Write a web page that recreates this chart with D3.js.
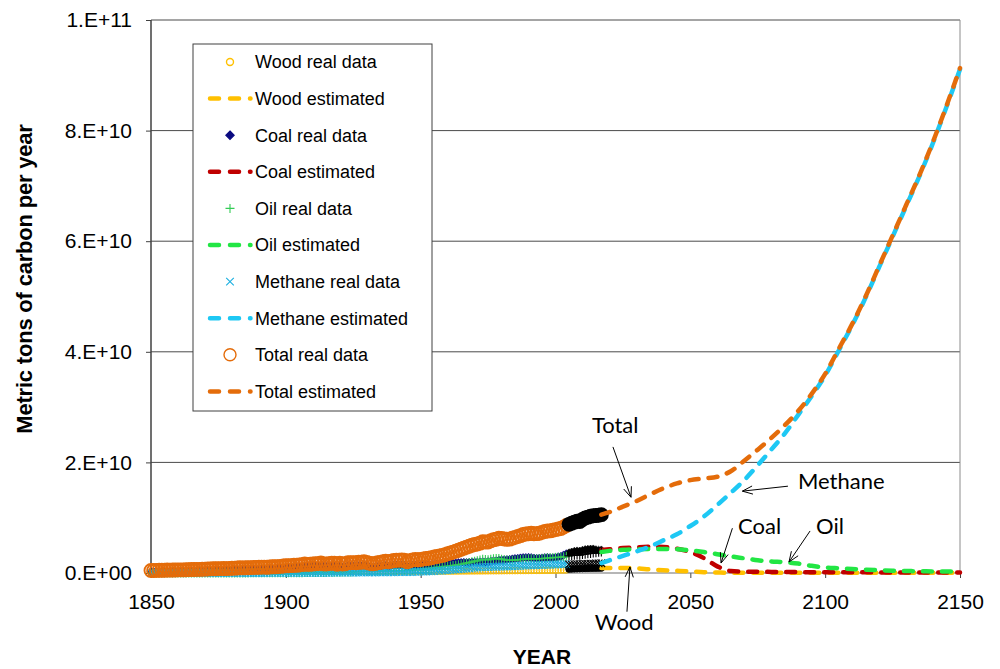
<!DOCTYPE html>
<html><head><meta charset="utf-8">
<script src="https://cdn.jsdelivr.net/npm/d3@7"></script>
<style>body{margin:0;background:#fff}svg{display:block}</style>
</head><body><svg id="chart" width="1000" height="669"></svg>
<script>
// ---------- DATA (values in billions of metric tons of carbon per year) ----------
const UNIT = 1e9;
const firstRealYear = 1850;   // real data is yearly from 1850 to 2017
const recentFromYear = 2005;  // real data drawn in black from this year on

const woodReal = [
0.15,0.15,0.16,0.16,0.16,0.17,0.17,0.17,0.18,0.18,
0.18,0.18,0.19,0.19,0.19,0.19,0.20,0.20,0.20,0.20,
0.20,0.21,0.21,0.21,0.21,0.21,0.22,0.22,0.22,0.22,
0.22,0.22,0.23,0.23,0.23,0.23,0.23,0.23,0.24,0.24,
0.24,0.24,0.24,0.24,0.24,0.25,0.25,0.25,0.25,0.25,
0.25,0.25,0.25,0.26,0.26,0.26,0.26,0.26,0.26,0.26,
0.26,0.26,0.27,0.27,0.27,0.27,0.27,0.27,0.27,0.27,
0.27,0.27,0.28,0.28,0.28,0.28,0.28,0.28,0.28,0.28,
0.28,0.28,0.28,0.29,0.29,0.29,0.29,0.29,0.29,0.29,
0.29,0.29,0.30,0.30,0.30,0.30,0.30,0.30,0.30,0.31,
0.31,0.31,0.31,0.31,0.32,0.32,0.32,0.32,0.33,0.33,
0.33,0.33,0.34,0.34,0.34,0.35,0.35,0.35,0.36,0.36,
0.36,0.37,0.37,0.37,0.38,0.38,0.39,0.39,0.39,0.40,
0.40,0.41,0.41,0.42,0.42,0.42,0.43,0.43,0.44,0.44,
0.45,0.45,0.46,0.46,0.47,0.47,0.48,0.48,0.49,0.50,
0.50,0.51,0.52,0.53,0.54,0.70,0.72,0.74,0.76,0.78,
0.80,0.82,0.83,0.84,0.85,0.86,0.87,0.88];

const coalReal = [
0.20,0.21,0.22,0.23,0.24,0.25,0.26,0.26,0.27,0.28,
0.29,0.30,0.30,0.32,0.34,0.35,0.36,0.37,0.38,0.40,
0.42,0.44,0.47,0.49,0.48,0.50,0.51,0.52,0.52,0.54,
0.57,0.59,0.62,0.65,0.64,0.65,0.66,0.68,0.72,0.72,
0.75,0.78,0.77,0.76,0.79,0.82,0.84,0.86,0.90,0.95,
0.98,0.99,1.00,1.07,1.06,1.09,1.15,1.24,1.17,1.19,
1.22,1.23,1.26,1.34,1.20,1.16,1.22,1.27,1.24,1.08,
1.22,1.07,1.10,1.27,1.25,1.25,1.20,1.28,1.26,1.33,
1.22,1.10,0.98,1.02,1.12,1.15,1.24,1.30,1.20,1.28,
1.36,1.39,1.40,1.42,1.36,1.12,1.25,1.36,1.40,1.32,
1.42,1.50,1.48,1.49,1.49,1.56,1.62,1.66,1.68,1.72,
1.80,1.72,1.76,1.82,1.86,1.88,1.90,1.88,1.90,1.94,
1.96,1.94,1.98,2.02,2.00,2.05,2.12,2.18,2.20,2.30,
2.34,2.36,2.40,2.44,2.52,2.60,2.64,2.70,2.76,2.78,
2.80,2.76,2.68,2.64,2.66,2.70,2.76,2.80,2.74,2.72,
2.82,2.90,2.98,3.24,3.46,3.62,3.76,3.90,3.96,3.94,
4.08,4.20,4.26,4.30,4.32,4.18,4.10,4.14];

const oilReal = [
0.00,0.00,0.00,0.00,0.00,0.00,0.00,0.00,0.00,0.01,
0.01,0.01,0.01,0.01,0.01,0.01,0.01,0.01,0.01,0.01,
0.01,0.01,0.01,0.01,0.01,0.01,0.01,0.01,0.02,0.02,
0.02,0.02,0.02,0.02,0.02,0.02,0.02,0.03,0.03,0.03,
0.03,0.03,0.03,0.03,0.03,0.04,0.04,0.04,0.04,0.04,
0.05,0.05,0.05,0.06,0.06,0.06,0.06,0.07,0.08,0.08,
0.09,0.09,0.10,0.11,0.11,0.11,0.12,0.13,0.13,0.13,
0.15,0.16,0.17,0.19,0.20,0.22,0.23,0.25,0.26,0.28,
0.28,0.27,0.26,0.27,0.29,0.31,0.33,0.36,0.36,0.38,
0.40,0.42,0.42,0.43,0.45,0.43,0.48,0.52,0.58,0.58,
0.64,0.72,0.76,0.80,0.84,0.94,1.02,1.08,1.14,1.22,
1.20,1.26,1.34,1.42,1.50,1.58,1.68,1.78,1.90,2.02,
2.14,2.22,2.34,2.48,2.42,2.38,2.50,2.56,2.60,2.64,
2.50,2.40,2.32,2.30,2.32,2.32,2.40,2.42,2.50,2.54,
2.56,2.58,2.54,2.55,2.58,2.62,2.68,2.72,2.74,2.78,
2.82,2.84,2.86,2.92,3.04,3.10,3.16,3.22,3.24,3.20,
3.34,3.40,3.48,3.54,3.60,3.68,3.74,3.80];

const methaneReal = [
0.00,0.00,0.00,0.00,0.00,0.00,0.00,0.00,0.00,0.00,
0.00,0.00,0.00,0.00,0.00,0.00,0.00,0.00,0.00,0.00,
0.00,0.00,0.00,0.00,0.00,0.00,0.00,0.00,0.01,0.01,
0.01,0.01,0.01,0.01,0.01,0.01,0.01,0.01,0.01,0.01,
0.01,0.01,0.01,0.02,0.02,0.02,0.02,0.02,0.02,0.02,
0.02,0.02,0.03,0.03,0.03,0.03,0.03,0.04,0.04,0.04,
0.04,0.04,0.05,0.05,0.05,0.05,0.05,0.06,0.06,0.06,
0.06,0.06,0.07,0.08,0.08,0.09,0.09,0.09,0.10,0.11,
0.11,0.10,0.10,0.10,0.11,0.11,0.12,0.13,0.13,0.13,
0.14,0.15,0.15,0.16,0.17,0.17,0.17,0.18,0.20,0.21,
0.24,0.26,0.28,0.30,0.32,0.35,0.38,0.41,0.44,0.47,
0.50,0.54,0.58,0.62,0.67,0.71,0.76,0.81,0.86,0.92,
0.96,1.00,1.03,1.06,1.07,1.08,1.10,1.12,1.14,1.17,
1.18,1.18,1.18,1.19,1.23,1.26,1.27,1.31,1.34,1.36,
1.38,1.40,1.40,1.41,1.42,1.44,1.48,1.47,1.48,1.51,
1.54,1.55,1.57,1.59,1.61,1.55,1.56,1.58,1.60,1.58,
1.62,1.64,1.66,1.68,1.70,1.72,1.74,1.77];

const totalReal = [
0.45,0.46,0.47,0.49,0.50,0.51,0.53,0.52,0.53,0.55,
0.56,0.57,0.56,0.59,0.61,0.62,0.63,0.65,0.66,0.68,
0.70,0.72,0.75,0.78,0.76,0.79,0.80,0.81,0.80,0.83,
0.86,0.88,0.91,0.94,0.93,0.94,0.95,0.98,1.02,1.01,
1.04,1.07,1.06,1.05,1.08,1.12,1.14,1.16,1.20,1.26,
1.30,1.31,1.33,1.41,1.41,1.45,1.52,1.63,1.56,1.59,
1.64,1.66,1.70,1.80,1.65,1.62,1.70,1.77,1.75,1.58,
1.76,1.62,1.68,1.87,1.86,1.88,1.85,1.95,1.94,2.05,
1.92,1.78,1.65,1.72,1.85,1.91,2.03,2.12,2.02,2.14,
2.25,2.30,2.33,2.36,2.31,2.03,2.22,2.38,2.47,2.40,
2.45,2.55,2.62,2.68,2.75,2.88,2.98,3.08,3.18,3.30,
3.50,3.62,3.78,3.95,4.12,4.30,4.50,4.68,4.85,5.02,
5.15,5.25,5.40,5.65,5.60,5.60,5.85,6.00,6.10,6.30,
6.25,6.15,6.10,6.12,6.30,6.45,6.60,6.75,6.95,7.05,
7.10,7.18,7.10,7.12,7.20,7.35,7.50,7.60,7.62,7.72,
7.85,7.95,8.05,8.30,8.60,8.80,9.00,9.20,9.35,9.30,
9.70,9.95,10.10,10.25,10.35,10.40,10.45,10.55];

const estYears    = [2017,2020,2025,2030,2035,2040,2045,2050,2055,2060,2065,2070,2075,2080,2085,2090,2095,2100,2105,2110,2115,2120,2125,2130,2135,2140,2145,2150];
const woodEst     = [0.90,0.90,0.90,0.85,0.65,0.50,0.40,0.30,0.15,0.08,0.05,0.05,0.05,0.05,0.05,0.05,0.05,0.05,0.05,0.05,0.05,0.05,0.05,0.05,0.05,0.05,0.05,0.05];
const coalEst     = [4.15,4.30,4.50,4.65,4.75,4.70,4.40,3.80,2.70,1.20,0.35,0.25,0.22,0.20,0.18,0.16,0.15,0.14,0.13,0.12,0.12,0.11,0.11,0.10,0.10,0.10,0.10,0.10];
const oilEst      = [3.80,4.00,4.20,4.30,4.35,4.35,4.30,4.10,3.80,3.40,3.00,2.65,2.30,2.10,1.95,1.70,1.30,1.00,0.85,0.72,0.60,0.50,0.42,0.36,0.32,0.28,0.26,0.25];
const methaneEst  = [1.80,2.30,3.10,3.90,4.80,5.90,7.00,8.50,10.20,12.30,14.50,16.80,19.50,22.30,25.20,28.60,32.00,35.70,40.20,44.80,49.80,55.30,60.80,66.30,71.80,77.80,84.30,91.10];
const totalEst    = [10.55,11.00,12.00,13.00,14.20,15.30,16.20,16.80,17.10,17.40,18.40,20.30,22.30,24.40,26.70,29.30,32.40,36.00,40.50,45.00,50.00,55.50,61.00,66.50,72.00,78.00,84.50,91.30];

const xTicks = [1850,1900,1950,2000,2050,2100,2150];
const yTicks = [0,2e10,4e10,6e10,8e10,1e11];
const yTickLabels = ["0.E+00","2.E+10","4.E+10","6.E+10","8.E+10","1.E+11"];
const legendLabels = ["Wood real data","Wood estimated","Coal real data","Coal estimated","Oil real data","Oil estimated","Methane real data","Methane estimated","Total real data","Total estimated"];
const annotationTexts = ["Total","Methane","Coal","Oil","Wood"];
const xTitle = "YEAR";
const yTitle = "Metric tons of carbon per year";

// ---------- DRAWING ----------
const svg = d3.select("#chart");
const x = d3.scaleLinear().domain([1850, 2150]).range([151, 960]);
const y = d3.scaleLinear().domain([0, 1e11]).range([573, 20]);
const FONT = "'Liberation Sans', Arial, sans-serif";

const colors = {
  wood: "#FFC000", coal: "#0A0A80", coalLine: "#C00000",
  oil: "#33CC55", oilLine: "#22E644", methane: "#1AAFE0", methaneLine: "#1EC8F4",
  total: "#E46C0A"
};

// gridlines
svg.append("g").selectAll("line").data(yTicks.filter(d => d > 0)).join("line")
  .attr("x1", x(1850)).attr("x2", x(2150))
  .attr("y1", d => y(d)).attr("y2", d => y(d))
  .attr("stroke", "#4a4a4a").attr("stroke-width", 1);
// right border
svg.append("line").attr("x1", x(2150)).attr("x2", x(2150)).attr("y1", y(1e11)).attr("y2", y(0))
  .attr("stroke", "#8c8c8c").attr("stroke-width", 1);

// axes
const yAxis = svg.append("g").attr("transform", `translate(${x(1850)},0)`)
  .call(d3.axisLeft(y).tickValues(yTicks).tickFormat((d, i) => yTickLabels[i]).tickSize(5).tickPadding(14));
yAxis.select(".domain").remove();
yAxis.selectAll("line").attr("stroke", "#404040");
yAxis.selectAll("text").attr("font-family", FONT).attr("font-size", 21).attr("fill", "#000");

const xAxis = svg.append("g").attr("transform", `translate(0,${y(0)})`)
  .call(d3.axisBottom(x).tickValues(xTicks).tickFormat(d3.format("d")).tickSize(5).tickPadding(16));
xAxis.select(".domain").remove();
xAxis.selectAll("line").attr("stroke", "#404040");
xAxis.selectAll("text").attr("font-family", FONT).attr("font-size", 21).attr("fill", "#000");

svg.append("line").attr("x1", x(1850)).attr("x2", x(2150)).attr("y1", y(0)).attr("y2", y(0))
  .attr("stroke", "#6e6e6e").attr("stroke-width", 1.2);
svg.append("line").attr("x1", x(1850)).attr("x2", x(1850)).attr("y1", y(1e11)).attr("y2", y(0))
  .attr("stroke", "#404040").attr("stroke-width", 1.5);

// axis titles
svg.append("text").attr("x", 542).attr("y", 664).attr("text-anchor", "middle")
  .attr("font-family", FONT).attr("font-weight", "bold").attr("font-size", 21).text(xTitle);
svg.append("text").attr("transform", "translate(32,279) rotate(-90)").attr("text-anchor", "middle")
  .attr("font-family", FONT).attr("font-weight", "bold").attr("font-size", 22)
  .attr("letter-spacing", -0.2).text(yTitle);

// marker shapes
const markerPath = {
  diamond: "M0,-4.2L4.2,0L0,4.2L-4.2,0Z",
  plus: "M-4.5,0H4.5M0,-4.5V4.5",
  cross: "M-3.8,-3.8L3.8,3.8M-3.8,3.8L3.8,-3.8"
};

function realSeries(values) {
  return values.map((v, i) => ({ year: firstRealYear + i, v: v * UNIT }));
}
function estSeries(values) {
  return values.map((v, i) => ({ year: estYears[i], v: v * UNIT }));
}
const line = d3.line().x(d => x(d.year)).y(d => y(d.v)).curve(d3.curveMonotoneX);

function drawEst(values, color) {
  svg.append("path").datum(estSeries(values)).attr("d", line)
    .attr("fill", "none").attr("stroke", color).attr("stroke-width", 4.5)
    .attr("stroke-linecap", "round").attr("stroke-dasharray", "9,10");
}
function drawCircles(values, color, r, sw) {
  const data = realSeries(values);
  svg.append("g").selectAll("circle").data(data).join("circle")
    .attr("cx", d => x(d.year)).attr("cy", d => y(d.v)).attr("r", r)
    .attr("fill", d => d.year >= recentFromYear ? "#000" : "none")
    .attr("stroke", d => d.year >= recentFromYear ? "#000" : color).attr("stroke-width", sw);
}
function drawSymbols(values, color, kind, sw) {
  const data = realSeries(values);
  svg.append("g").selectAll("path").data(data).join("path")
    .attr("transform", d => `translate(${x(d.year)},${y(d.v)})`)
    .attr("d", markerPath[kind])
    .attr("fill", kind === "diamond" ? (d => d.year >= recentFromYear ? "#000" : color) : "none")
    .attr("stroke", d => d.year >= recentFromYear ? "#000" : color)
    .attr("stroke-width", sw);
}

// draw in legend order
drawCircles(woodReal, colors.wood, 3.2, 1);
drawEst(woodEst, colors.wood);
drawSymbols(coalReal, colors.coal, "diamond", 0.6);
drawEst(coalEst, colors.coalLine);
drawSymbols(oilReal, colors.oil, "plus", 1.1);
drawEst(oilEst, colors.oilLine);
drawSymbols(methaneReal, colors.methane, "cross", 1.1);
drawEst(methaneEst, colors.methaneLine);
drawCircles(totalReal, colors.total, 6.5, 1.9);
drawEst(totalEst, colors.total);

// legend
const lg = svg.append("g");
lg.append("rect").attr("x", 193).attr("y", 44).attr("width", 239).attr("height", 367)
  .attr("fill", "#fff").attr("stroke", "#404040").attr("stroke-width", 1);
const legendStyle = [
  { type: "circle", color: colors.wood, r: 3.5 },
  { type: "line", color: colors.wood },
  { type: "diamond", color: colors.coal },
  { type: "line", color: colors.coalLine },
  { type: "plus", color: colors.oil },
  { type: "line", color: colors.oilLine },
  { type: "cross", color: colors.methane },
  { type: "line", color: colors.methaneLine },
  { type: "circle", color: colors.total, r: 6 },
  { type: "line", color: colors.total }
];
legendLabels.forEach((lab, i) => {
  const cy = 62 + i * 36.6;
  const s = legendStyle[i];
  if (s.type === "line") {
    lg.append("line").attr("x1", 210).attr("x2", 250.5).attr("y1", cy).attr("y2", cy)
      .attr("stroke", s.color).attr("stroke-width", 4.5).attr("stroke-linecap", "round")
      .attr("stroke-dasharray", "9,11");
  } else if (s.type === "circle") {
    lg.append("circle").attr("cx", 230).attr("cy", cy).attr("r", s.r)
      .attr("fill", "none").attr("stroke", s.color).attr("stroke-width", 1.4);
  } else {
    lg.append("path").attr("transform", `translate(230,${cy})`).attr("d", markerPath[s.type])
      .attr("fill", s.type === "diamond" ? s.color : "none").attr("stroke", s.color).attr("stroke-width", 1.1);
  }
  lg.append("text").attr("x", 255).attr("y", cy).attr("dy", "0.35em")
    .attr("font-family", FONT).attr("font-size", 18).attr("fill", "#000").text(lab);
});

// annotations (label anchor and arrow in data units)
const annotations = [
  { text: annotationTexts[0], tx: 2013.5, ty: 2.53e10, a: [2021.3, 2.28e10, 2028.0, 1.37e10] },
  { text: annotationTexts[1], tx: 2089.9, ty: 1.52e10, a: [2086.2, 1.57e10, 2069.3, 1.48e10] },
  { text: annotationTexts[2], tx: 2067.7, ty: 0.705e10, a: [2065.6, 0.81e10, 2061.4, 0.18e10] },
  { text: annotationTexts[3], tx: 2096.6, ty: 0.705e10, a: [2094.4, 0.76e10, 2086.6, 0.20e10] },
  { text: annotationTexts[4], tx: 2014.6, ty: -1.03e10, a: [2026.5, -0.70e10, 2027.6, 0.11e10] }
];
const ag = svg.append("g");
annotations.forEach(an => {
  ag.append("text").attr("x", x(an.tx)).attr("y", y(an.ty))
    .attr("font-family", "Lato, 'Open Sans', sans-serif").attr("font-size", 22).attr("fill", "#000").text(an.text);
  const x1 = x(an.a[0]), y1 = y(an.a[1]), x2 = x(an.a[2]), y2 = y(an.a[3]);
  ag.append("line").attr("x1", x1).attr("y1", y1).attr("x2", x2).attr("y2", y2)
    .attr("stroke", "#000").attr("stroke-width", 1);
  const ang = Math.atan2(y2 - y1, x2 - x1), L = 11, w = 0.38;
  const p = [[x2 - L * Math.cos(ang - w), y2 - L * Math.sin(ang - w)], [x2, y2],
             [x2 - L * Math.cos(ang + w), y2 - L * Math.sin(ang + w)]];
  ag.append("path").attr("d", d3.line()(p)).attr("fill", "none").attr("stroke", "#000").attr("stroke-width", 1);
});
</script>
</body></html>
